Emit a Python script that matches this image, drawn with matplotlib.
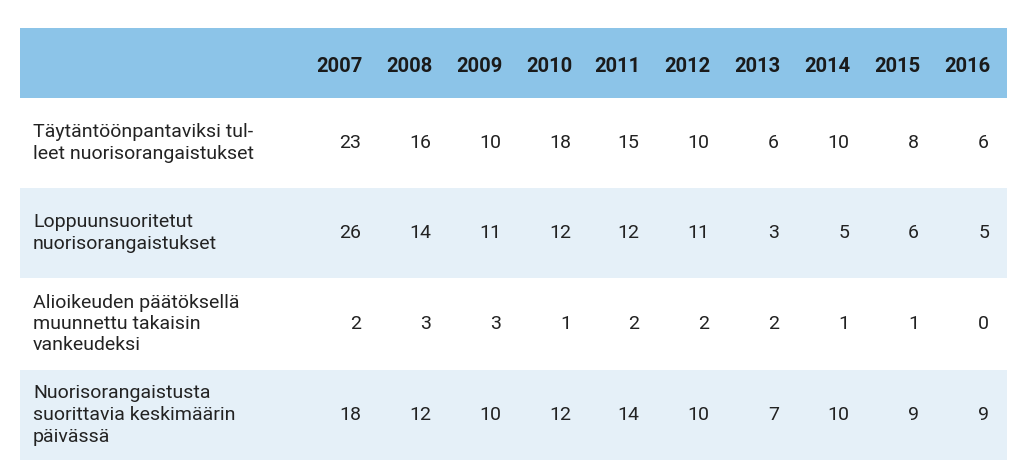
import matplotlib
matplotlib.use("Agg")
import matplotlib.pyplot as plt
from matplotlib.patches import Rectangle

years = ["2007","2008","2009","2010","2011","2012","2013","2014","2015","2016"]
row_labels = [
    "Täytäntöönpantaviksi tul-\nleet nuorisorangaistukset",
    "Loppuunsuoritetut\nnuorisorangaistukset",
    "Alioikeuden päätöksellä\nmuunnettu takaisin\nvankeudeksi",
    "Nuorisorangaistusta\nsuorittavia keskimäärin\npäivässä",
]
values = [
    [23,16,10,18,15,10,6,10,8,6],
    [26,14,11,12,12,11,3,5,6,5],
    [2,3,3,1,2,2,2,1,1,0],
    [18,12,10,12,14,10,7,10,9,9],
]

fig = plt.figure(figsize=(10.23,4.72), dpi=100)
ax = fig.add_axes([0,0,1,1])
ax.set_xlim(0,1023); ax.set_ylim(472,0); ax.axis("off")

x0, x1 = 20, 1007
ax.add_patch(Rectangle((x0,28), x1-x0, 70, color="#8cc4e8", lw=0))
row_tops = [98,188,278,370]
row_h = [90,90,92,90]
col_c = [339,409,479,549,617,687,757,827,897,967]
for i,(t,h) in enumerate(zip(row_tops,row_h)):
    if i % 2 == 1:
        ax.add_patch(Rectangle((x0,t), x1-x0, h, color="#e5f0f8", lw=0))
    ax.text(33, t+h/2, row_labels[i], va="center", ha="left", fontsize=14,
            family="Roboto", color="#222222", linespacing=1.25)
    for c,v in zip(col_c, values[i]):
        ax.text(c+22, t+h/2, str(v), va="center", ha="right", fontsize=14,
                family="Roboto", color="#222222")
for c,y in zip(col_c, years):
    ax.text(c, 66, y, va="center", ha="center", fontsize=14.5, family="Roboto",
            weight="bold", color="#1a1a1a")
fig.savefig("out.png", dpi=100)
